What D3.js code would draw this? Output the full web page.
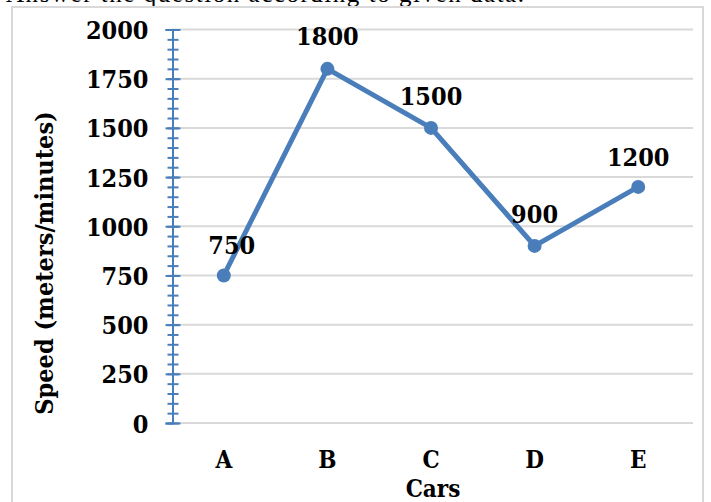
<!DOCTYPE html>
<html>
<head>
<meta charset="utf-8">
<script src="https://cdnjs.cloudflare.com/ajax/libs/d3/7.8.5/d3.min.js"></script>
<style>
  body { margin: 0; background: #fff; }
  text { font-family: "DejaVu Serif Condensed", "DejaVu Serif", serif; font-weight: bold; fill: #000; }
</style>
</head>
<body>
<div id="chart"></div>
<script>
// Chart data
const cars = ["A", "B", "C", "D", "E"];
const speeds = [750, 1800, 1500, 900, 1200];
const yTicks = [0, 250, 500, 750, 1000, 1250, 1500, 1750, 2000];

const W = 711, H = 502;
const plot = { left: 172, right: 690, top: 29.5, bottom: 423 };

const svg = d3.select("#chart")
  .append("svg")
  .attr("width", W)
  .attr("height", H);

// Cut-off text above the chart
svg.append("text")
  .attr("x", 6)
  .attr("y", 2)
  .attr("textLength", 518)
  .style("font-family", "'Liberation Serif', serif")
  .style("font-weight", "normal")
  .style("font-size", "25px")
  .text("Answer the question according to given data.");

// Chart frame
svg.append("rect")
  .attr("x", 12).attr("y", 7)
  .attr("width", 691).attr("height", 520)
  .attr("fill", "none")
  .attr("stroke", "#d9d9d9")
  .attr("stroke-width", 2);

const x = d3.scaleBand()
  .domain(cars)
  .range([plot.left, plot.right]);

const y = d3.scaleLinear()
  .domain([0, 2000])
  .range([plot.bottom, plot.top]);

// Gridlines
svg.append("g")
  .selectAll("line")
  .data(yTicks)
  .enter().append("line")
  .attr("x1", plot.left)
  .attr("x2", plot.right + 3)
  .attr("y1", d => y(d))
  .attr("y2", d => y(d))
  .attr("stroke", "#d9d9d9")
  .attr("stroke-width", 2);

// Y axis: minor ticks every 50
const yMinor = d3.axisLeft(y)
  .tickValues(d3.range(0, 2001, 50))
  .tickSizeInner(-5)
  .tickSizeOuter(0)
  .tickFormat("");
const gMinor = svg.append("g")
  .attr("transform", `translate(${plot.left + 0.5},0)`)
  .call(yMinor);
gMinor.selectAll(".tick line").attr("x1", -5).attr("x2", 6);

const yAxis = d3.axisLeft(y)
  .tickValues(yTicks)
  .tickSize(7)
  .tickPadding(17)
  .tickFormat(d3.format("d"));
const gy = svg.append("g")
  .attr("transform", `translate(${plot.left + 0.5},0)`)
  .call(yAxis);
gy.selectAll(".tick line").attr("x1", -7).attr("x2", 8);
gy.selectAll("text").style("font-size", "25px").attr("dy", "0.36em");

svg.selectAll(".domain").attr("stroke", "#4a7ebb").attr("stroke-width", 2);
svg.selectAll(".tick line").attr("stroke", "#4a7ebb").attr("stroke-width", 2);

// X axis labels
svg.append("g")
  .selectAll("text")
  .data(cars)
  .enter().append("text")
  .attr("x", d => x(d) + x.bandwidth() / 2)
  .attr("y", 468)
  .attr("text-anchor", "middle")
  .style("font-size", "24px")
  .text(d => d);

// Axis titles
svg.append("text")
  .attr("x", 433)
  .attr("y", 497)
  .attr("text-anchor", "middle")
  .style("font-size", "24px")
  .text("Cars");

svg.append("text")
  .attr("transform", "translate(53,263) rotate(-90)")
  .attr("text-anchor", "middle")
  .style("font-size", "25px")
  .text("Speed (meters/minutes)");

// Line and markers
const line = d3.line()
  .x((d, i) => x(cars[i]) + x.bandwidth() / 2)
  .y(d => y(d));

svg.append("path")
  .datum(speeds)
  .attr("d", line)
  .attr("fill", "none")
  .attr("stroke", "#4a7ebb")
  .attr("stroke-width", 5)
  .attr("stroke-linejoin", "round");

svg.append("g")
  .selectAll("circle")
  .data(speeds)
  .enter().append("circle")
  .attr("cx", (d, i) => x(cars[i]) + x.bandwidth() / 2)
  .attr("cy", d => y(d))
  .attr("r", 7)
  .attr("fill", "#4a7ebb");

// Data labels
const labelOffsets = [[8, -21], [0, -24], [0, -23], [0, -23], [0, -21]];
svg.append("g")
  .selectAll("text")
  .data(speeds)
  .enter().append("text")
  .attr("x", (d, i) => x(cars[i]) + x.bandwidth() / 2 + labelOffsets[i][0])
  .attr("y", (d, i) => y(d) + labelOffsets[i][1])
  .attr("text-anchor", "middle")
  .style("font-size", "25px")
  .text(d => d);
</script>
</body>
</html>
